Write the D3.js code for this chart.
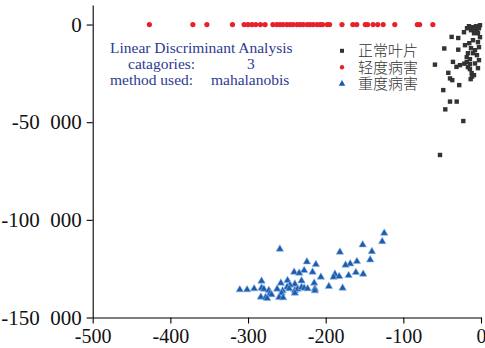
<!DOCTYPE html>
<html><head><meta charset="utf-8">
<script src="https://cdn.jsdelivr.net/npm/d3@7"></script>
<style>
html,body{margin:0;padding:0;background:#fff;}
svg{display:block;}
</style></head>
<body>
<svg id="chart" width="485" height="348"></svg>
<script>
// ---- data ----
const seriesNames = ["正常叶片", "轻度病害", "重度病害"];
const xTicks = [-500, -400, -300, -200, -100, 0];
const yTicks = [0, -50000, -100000, -150000];
const infoLines = [["Linear Discriminant Analysis", ""], ["catagories:", "3"], ["method used:", "mahalanobis"]];

// 正常叶片 (x, y)
const normalPts = [
  [-37.8,-6336],[-29.3,-6900],[-47.3,-12264],[-29.3,-12877],[-20.6,-10578],[-15.1,-9556],
  [-10.3,-8023],[-7.7,-13133],[-59.3,-20542],[-36.1,-19111],[-31.6,-21666],[-27.1,-20798],
  [-21.5,-20031],[-18.4,-16710],[-18.4,-19265],[-16.8,-21820],[-14.2,-17732],[-14.2,-20287],
  [-14.2,-22842],[-12.0,-24886],[-11.6,-26674],[-7.7,-19929],[-9.0,-25908],[-42.1,-24732],
  [-39.9,-27594],[-37.0,-28463],[-28.0,-31018],[-13.3,-27952],[-48.6,-33573],[-39.9,-39449],
  [-31.3,-39449],[-46.0,-43435],[-22.8,-49414],[-52.8,-66788],
  [-18.0,-1891],[-15.5,-869],[-12.9,-2913],[-10.3,-1380],[-7.7,-2402],[-5.2,-3424],
  [-6.4,-869],[-3.9,-4446],[-2.6,-1891],[-21.9,-3935],[-9.0,-4446],[-1.3,-358],
  [-1.3,-6490],[-3.9,-9045],[-2.6,-11600],[-5.2,-15688],[-2.6,-18243],[-10.3,-14666],
  [-12.9,-12111],[-16.8,-14666],[-3.9,-22331]
];
// 轻度病害 (x, y)
const mildPts = [
  [-427,0],[-371,0],[-353,0],[-320,0],[-305,0],[-300,0],[-295,0],[-290,0],[-284,0],[-278,0],
  [-268,0],[-263,0],[-259,0],[-255,0],[-250,0],[-246,0],[-242,0],[-237,0],[-233,0],[-229,0],
  [-224,0],[-220,0],[-216,0],[-211,0],[-207,0],[-204,0],[-198,0],[-195,0],[-179,0],[-165,0],
  [-160,0],[-149,0],[-146,0],[-139,0],[-133,0],[-126,0],[-111,0],[-82,0],[-79,0],[-62,0]
];
// 重度病害 (x, y)
const severePts = [
  [-124.6,-106799],[-127.2,-111091],[-152.4,-112778],[-140.5,-116201],[-181.7,-116508],
  [-259.0,-114975],[-142.7,-120443],[-159.8,-121312],[-168.4,-122487],[-174.4,-123151],
  [-224.2,-121465],[-212.6,-122844],[-227.7,-125910],[-216.9,-126728],[-240.6,-126728],
  [-234.1,-127239],[-161.1,-126932],[-151.7,-127750],[-170.5,-128465],[-188.1,-127750],
  [-189.8,-129283],[-182.6,-128976],[-206.2,-129283],[-249.1,-131020],[-231.1,-131174],
  [-282.6,-131327],[-257.7,-132349],[-214.8,-132349],[-239.7,-132860],[-246.1,-133371],
  [-195.9,-134086],[-178.2,-134904],[-310.6,-135773],[-301.2,-135773],[-292.1,-135262],
  [-282.6,-134904],[-279.6,-135415],[-273.2,-136130],[-262.5,-135415],[-255.5,-136284],
  [-249.6,-134393],[-247.0,-135262],[-239.7,-136130],[-236.2,-135415],[-231.1,-134597],
  [-227.7,-134904],[-223.3,-135262],[-213.9,-135262],[-213.9,-136284],[-271.9,-137817],
  [-269.7,-138328],[-256.8,-137459],[-239.7,-137459],[-283.5,-139503],[-277.4,-139708],
  [-275.4,-140219],[-259.9,-139708],[-254.8,-139861]
];

// ---- chart ----
const svg = d3.select("#chart");
const x = d3.scaleLinear().domain([-500, 0]).range([92.7, 481]);
const y = d3.scaleLinear().domain([-150000, 10000]).range([317.5, 5]);
const loc = d3.formatLocale({decimal: ".", thousands: "\u2002", grouping: [3], currency: ["", ""], minus: "-"});
const fmt = loc.format(",d");
const serif = "'Liberation Serif','Times New Roman',serif";

const gx = svg.append("g").attr("transform", `translate(0,${y(-150000)})`)
  .call(d3.axisBottom(x).tickValues(xTicks).tickFormat(d => loc.format("d")(d)).tickSize(6).tickPadding(5).tickSizeOuter(0));
const gy = svg.append("g").attr("transform", `translate(${x(-500)},0)`)
  .call(d3.axisLeft(y).tickValues(yTicks).tickFormat(fmt).tickSize(6).tickPadding(5).tickSizeOuter(0));
[gx, gy].forEach(g => {
  g.selectAll("path,line").attr("stroke", "#000").attr("stroke-width", 1.1);
  g.selectAll("text").attr("font-family", serif).attr("fill", "#111");
});
gx.selectAll("text").attr("font-size", 20);
gy.selectAll("text").attr("font-size", 21);

const colors = {normal: "#333333", mild: "#e8202a", severe: "#1a5cb0"};
const tri = d3.symbol().type(d3.symbolTriangle).size(24);

// severe triangles
svg.append("g").selectAll("path").data(severePts).join("path")
  .attr("d", tri).attr("transform", d => `translate(${x(d[0])},${y(d[1])})`)
  .attr("fill", colors.severe).attr("stroke", "#8fb4e0").attr("stroke-width", 0.6);
// mild circles
svg.append("g").selectAll("circle").data(mildPts).join("circle")
  .attr("cx", d => x(d[0])).attr("cy", d => y(d[1])).attr("r", 2.6).attr("fill", colors.mild);
// normal squares
svg.append("g").selectAll("rect").data(normalPts).join("rect")
  .attr("x", d => x(d[0]) - 2.2).attr("y", d => y(d[1]) - 2.2).attr("width", 4.4).attr("height", 4.4)
  .attr("fill", colors.normal);

// info text
const info = svg.append("g").attr("font-family", serif).attr("font-size", 15.5).attr("fill", "#2e3a91");
info.append("text").attr("x", 110).attr("y", 53).text(infoLines[0][0]);
info.append("text").attr("x", 128).attr("y", 69).text(infoLines[1][0]);
info.append("text").attr("x", 247).attr("y", 69).text(infoLines[1][1]);
info.append("text").attr("x", 110).attr("y", 85).text(infoLines[2][0]);
info.append("text").attr("x", 211).attr("y", 85).text(infoLines[2][1]);

// legend
const lg = svg.append("g");
const rowsY = [50.8, 67.3, 83.8];
lg.append("rect").attr("x", 340).attr("y", rowsY[0] - 2).attr("width", 4).attr("height", 4).attr("fill", colors.normal);
lg.append("circle").attr("cx", 342).attr("cy", rowsY[1]).attr("r", 2.2).attr("fill", colors.mild);
lg.append("path").attr("d", d3.symbol().type(d3.symbolTriangle).size(18)).attr("transform", `translate(342,${rowsY[2]})`).attr("fill", colors.severe);
lg.selectAll("text").data(seriesNames).join("text")
  .attr("x", 358).attr("y", (d, i) => rowsY[i]).attr("dy", "0.37em")
  .attr("font-family", "'Noto Sans CJK SC',sans-serif").attr("font-size", 15).attr("font-weight", 300)
  .attr("fill", "#333").text(d => d);
</script>
</body></html>
